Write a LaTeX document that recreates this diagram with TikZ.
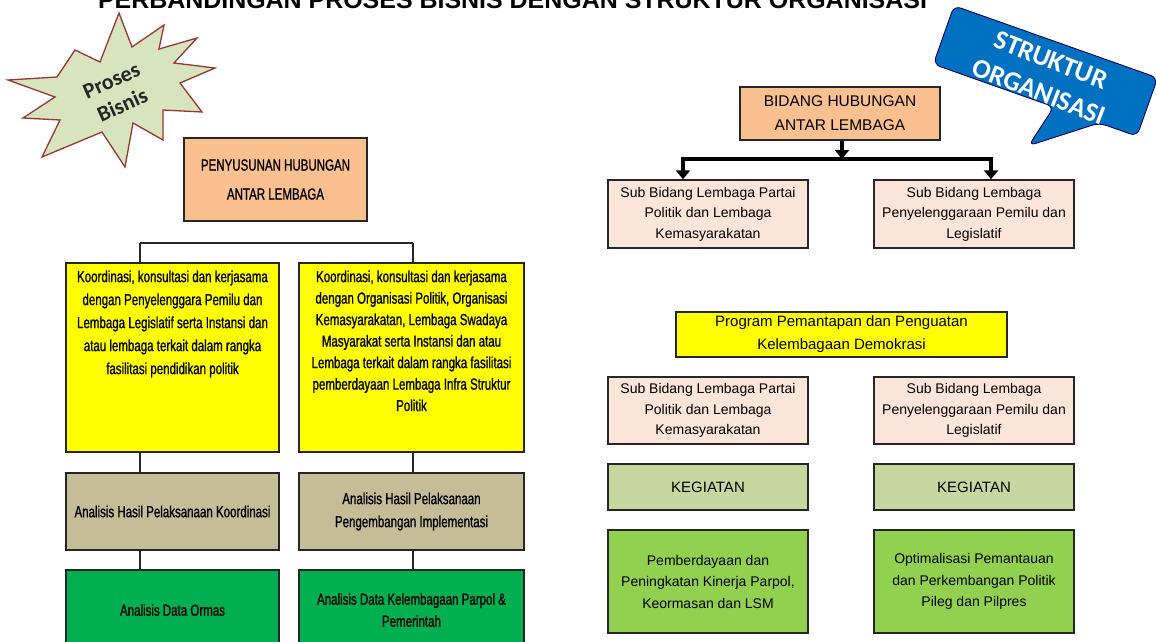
\documentclass[tikz,border=0pt]{standalone}
\usepackage{fontspec}
\usepackage{graphicx}
\usetikzlibrary{arrows.meta}
\setmainfont{Liberation Sans}
\newfontfamily\nf[FakeStretch=0.72,FakeBold=1]{Liberation Sans}
\newfontfamily\cf{Carlito}
\definecolor{orangeF}{HTML}{FAC090}
\definecolor{yellowF}{HTML}{FFFF00}
\definecolor{tanF}{HTML}{C4BD97}
\definecolor{dgreenF}{HTML}{00B050}
\definecolor{pinkF}{HTML}{FBE5D9}
\definecolor{kegF}{HTML}{C6D8A0}
\definecolor{lgreenF}{HTML}{92D050}
\definecolor{starF}{HTML}{D7E4BD}
\definecolor{starD}{HTML}{953735}
\definecolor{blueF}{HTML}{0070C0}
\tikzset{
  box/.style={draw=black!85, line width=1.4pt, inner sep=0pt, align=center},
  conn/.style={draw=black!85, line width=1.6pt},
  bigarr/.style={draw=black, line width=3.8pt, -{Triangle[width=14pt,length=9pt]}},
  bar/.style={draw=black, line width=3.8pt},
  lefttxt/.style={font=\fontsize{16}{23}\nf, align=center, inner sep=0pt},
  righttxt/.style={font=\fontsize{14}{20.5}\selectfont},
}
\begin{document}
\begin{tikzpicture}[x=1pt,y=1pt]
\useasboundingbox (0,0) rectangle (1156,-641);

% title
\node[anchor=base, inner sep=0pt] (title) at (512.5,-8) {\resizebox{829pt}{17pt}{\bfseries PERBANDINGAN PROSES BISNIS DENGAN STRUKTUR ORGANISASI}};

% starburst
\draw[fill=starF, draw=starD, line width=1.3pt]
 (119,-13) -- (132,-47) -- (164,-25) -- (159,-49) -- (197,-38) -- (174,-63)
 -- (215,-68) -- (180,-83) -- (202,-112) -- (163,-110) -- (163,-140)
 -- (133,-123) -- (125,-167) -- (102,-132) -- (42,-157) -- (60,-120)
 -- (23,-118) -- (55,-97) -- (8,-80) -- (57,-77) -- (75,-50) -- (100,-62) -- cycle;
\node[rotate=24, align=center, inner sep=0pt, font=\fontsize{22}{27}\cf\bfseries, text=black!85] (pb) at (117,-93) {Proses\\Bisnis};

% callout
\begin{scope}[shift={(1045.5,-71)}, rotate=-19.5]
\draw[fill=blueF, draw=blue!35!black, line width=0.9pt, rounded corners=7pt]
 (-108,31) -- (108,31) -- (108,-31) -- (68,-31) -- (9,-76) -- (20,-31) -- (-108,-31) -- cycle;
\end{scope}
\node[rotate=-21, align=center, inner sep=0pt, text=white, font=\fontsize{27}{34}\cf\bfseries] (so) at (1045,-76) {STRUKTUR\\ORGANISASI};

% ---------- left side ----------
\node[box, fill=orangeF, minimum width=183pt, minimum height=83pt, font=\fontsize{16}{29}\nf] (pen) at (275.5,-179.5) {PENYUSUNAN HUBUNGAN\\ANTAR LEMBAGA};

\node[box, fill=yellowF, minimum width=213pt, minimum height=189pt] (yl) at (172.5,-357.5) {};
\node[box, fill=yellowF, minimum width=225pt, minimum height=189pt] (yr) at (411.5,-357.5) {};
\node[lefttxt, anchor=north] (ylt) at ([yshift=-8pt]yl.north) {Koordinasi, konsultasi dan kerjasama\\dengan Penyelenggara Pemilu dan\\Lembaga Legislatif serta Instansi dan\\atau lembaga terkait dalam rangka\\fasilitasi pendidikan politik};
\node[lefttxt, anchor=north, font=\fontsize{16}{21.5}\nf] (yrt) at ([yshift=-8pt]yr.north) {Koordinasi, konsultasi dan kerjasama\\dengan Organisasi Politik, Organisasi\\Kemasyarakatan, Lembaga Swadaya\\Masyarakat serta Instansi dan atau\\Lembaga terkait dalam rangka fasilitasi\\pemberdayaan Lembaga Infra Struktur\\Politik};

\node[box, fill=tanF, minimum width=213pt, minimum height=77pt, font=\fontsize{16}{23}\nf] (tl) at (172.5,-511.5) {Analisis Hasil Pelaksanaan Koordinasi};
\node[box, fill=tanF, minimum width=225pt, minimum height=77pt, font=\fontsize{16}{23}\nf] (tr) at (411.5,-511.5) {Analisis Hasil Pelaksanaan\\Pengembangan Implementasi};

\node[box, fill=dgreenF, minimum width=213pt, minimum height=80pt, font=\fontsize{16}{22}\nf] (gl) at (172.5,-610) {Analisis Data Ormas};
\node[box, fill=dgreenF, minimum width=225pt, minimum height=80pt, font=\fontsize{16}{22}\nf] (gr) at (411.5,-610) {Analisis Data Kelembagaan Parpol \&\\Pemerintah};

\coordinate (jl) at (140,-243);
\coordinate (jr) at (413,-243);
\draw[conn] (jl) -- (jr);
\draw[conn] (jl) -- (jl |- yl.north);
\draw[conn] (jr) -- (jr |- yr.north);
\draw[conn] (jl |- yl.south) -- (jl |- tl.north);
\draw[conn] (jr |- yr.south) -- (jr |- tr.north);
\draw[conn] (jl |- tl.south) -- (jl |- gl.north);
\draw[conn] (jr |- tr.south) -- (jr |- gr.north);

% ---------- right side ----------
\node[box, fill=orangeF, minimum width=200pt, minimum height=53pt, font=\fontsize{15.5}{24}\selectfont] (bid) at (840,-113.5) {BIDANG HUBUNGAN\\ANTAR LEMBAGA};

\node[box, fill=pinkF, minimum width=200pt, minimum height=68pt, righttxt] (s1l) at (708,-214) {Sub Bidang Lembaga Partai\\Politik dan Lembaga\\Kemasyarakatan};
\node[box, fill=pinkF, minimum width=200pt, minimum height=68pt, righttxt] (s1r) at (974,-214) {Sub Bidang Lembaga\\Penyelenggaraan Pemilu dan\\Legislatif};

\coordinate (bm) at (842,-159);
\coordinate (bl) at (683,-159);
\coordinate (br) at (991,-159);
\draw[bigarr] (bm |- bid.south) -- (bm);
\draw[bar] ([xshift=-1.9pt]bl) -- ([xshift=1.9pt]br);
\draw[bigarr] (bl) -- (bl |- s1l.north);
\draw[bigarr] (br) -- (br |- s1r.north);

\node[box, fill=yellowF, minimum width=331pt, minimum height=45pt, font=\fontsize{15}{23}\selectfont] (prog) at (841.5,-334.5) {Program Pemantapan dan Penguatan\\Kelembagaan Demokrasi};

\node[box, fill=pinkF, minimum width=200pt, minimum height=67pt, righttxt] (s2l) at (708,-410.5) {Sub Bidang Lembaga Partai\\Politik dan Lembaga\\Kemasyarakatan};
\node[box, fill=pinkF, minimum width=200pt, minimum height=67pt, righttxt] (s2r) at (974,-410.5) {Sub Bidang Lembaga\\Penyelenggaraan Pemilu dan\\Legislatif};

\node[box, fill=kegF, minimum width=200pt, minimum height=46pt, font=\fontsize{15}{20}\selectfont] (kl) at (708,-487) {KEGIATAN};
\node[box, fill=kegF, minimum width=200pt, minimum height=46pt, font=\fontsize{15}{20}\selectfont] (kr) at (974,-487) {KEGIATAN};

\node[box, fill=lgreenF, minimum width=200pt, minimum height=103pt, font=\fontsize{14}{21.5}\selectfont] (bl2) at (708,-581.5) {Pemberdayaan dan\\Peningkatan Kinerja Parpol,\\Keormasan dan LSM};
\node[box, fill=lgreenF, minimum width=200pt, minimum height=103pt, font=\fontsize{14}{21.5}\selectfont] (br2) at (974,-581.5) {Optimalisasi Pemantauan\\dan Perkembangan Politik\\Pileg dan Pilpres};
\end{tikzpicture}
\end{document}
